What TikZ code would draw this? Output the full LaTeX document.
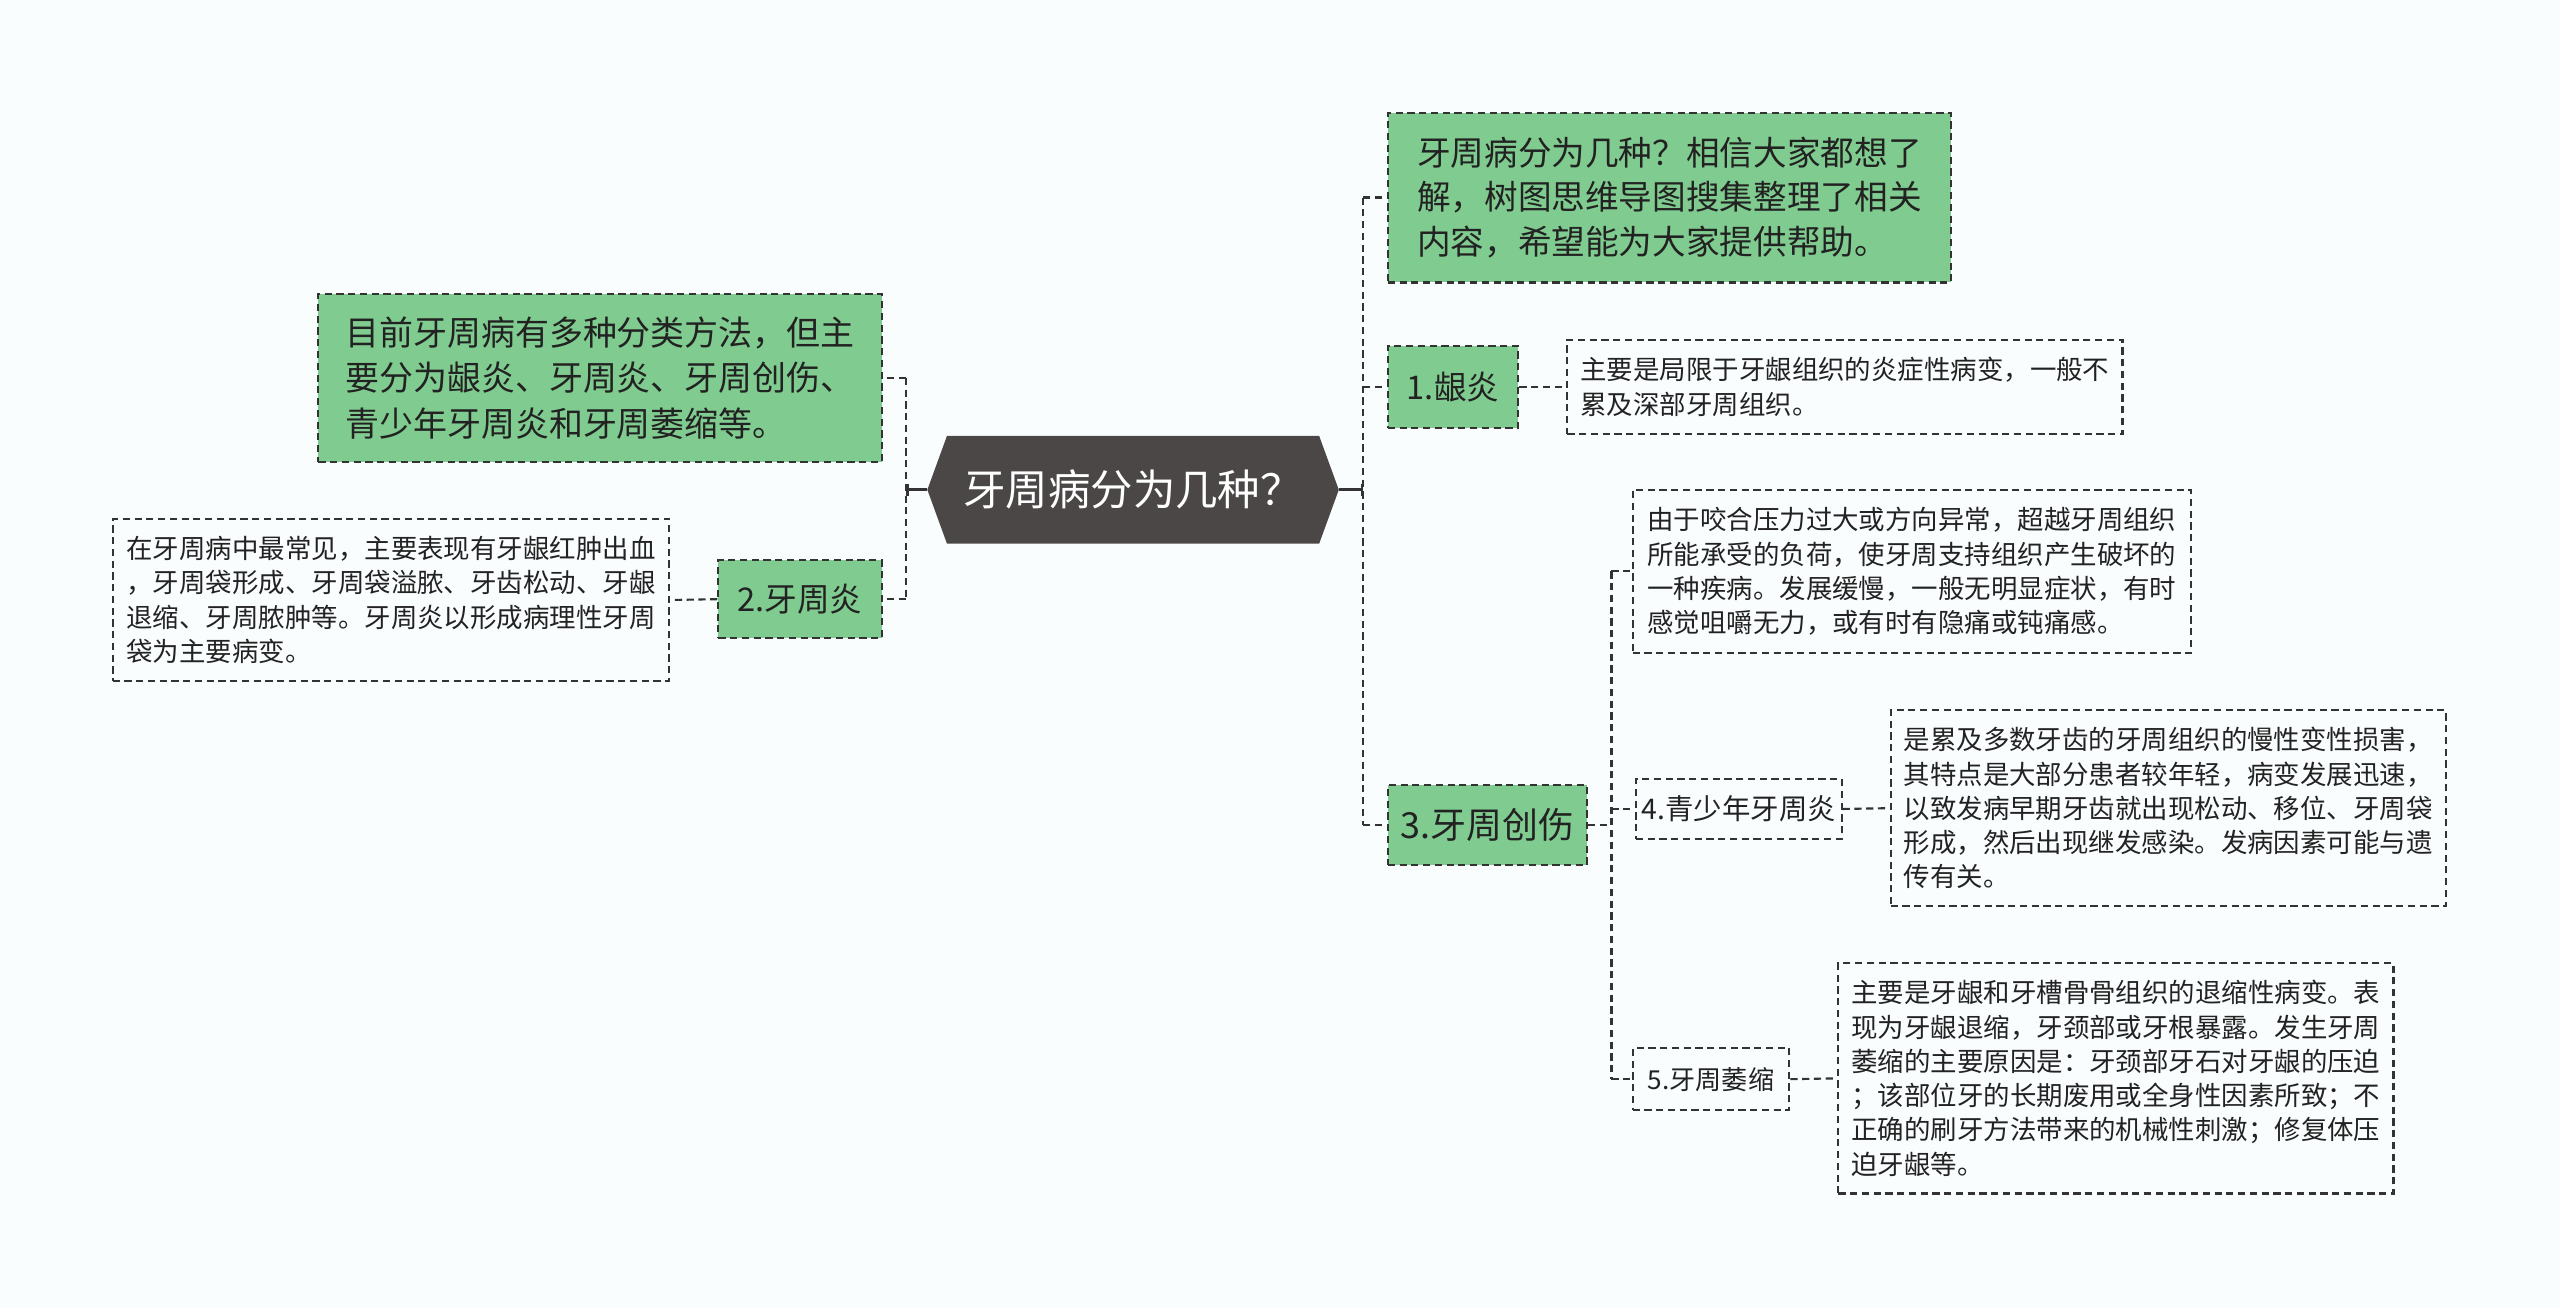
\documentclass[tikz,border=0pt]{standalone}
\usepackage{fontspec}
\setmainfont{Noto Sans CJK SC}
\usetikzlibrary{arrows.meta,positioning,shapes.symbols}
\definecolor{bgcol}{RGB}{250,253,254}
\definecolor{leafgreen}{RGB}{128,203,143}
\definecolor{rootgray}{RGB}{75,71,71}
\definecolor{linegray}{RGB}{51,51,51}
\definecolor{inkgray}{RGB}{34,34,34}

\begin{document}
\begin{tikzpicture}[x=0.5pt,y=0.5pt,
  box/.style={draw=linegray, line width=0.65pt, dash pattern=on 2.2pt off 1.4pt,
    inner sep=0pt, align=left, text=inkgray},
  greenbox/.style={box, fill=leafgreen},
  notebox/.style={box, font=\fontsize{8.1pt}{10.5pt}\selectfont},
  link/.style={draw=linegray, line width=0.65pt, dash pattern=on 2.2pt off 1.4pt},
  rootlink/.style={draw=linegray, line width=0.8pt, -{Bar[width=3.5pt,line width=0.8pt]}}]
  \fill[bgcol] (0,0) rectangle (1568,-801);
  \useasboundingbox (0,0) rectangle (1568,-801);
  % centre
  \node[signal, signal to=east and west, signal pointer angle=140, fill=rootgray,
    text=white, minimum width=126pt, minimum height=33pt,
    font=\fontsize{13pt}{15pt}\selectfont] (root) at (694,-300) {牙周病分为几种？};
  % right branch
  \node[greenbox, minimum width=172.5pt, minimum height=52pt,
    font=\fontsize{10.3pt}{13.5pt}\selectfont] (intro) at (1022.5,-121)
    {牙周病分为几种？相信大家都想了\\解，树图思维导图搜集整理了相关\\内容，希望能为大家提供帮助。};
  \node[greenbox, minimum width=40pt, minimum height=25pt,
    font=\fontsize{10pt}{12pt}\selectfont] (gum) at (890,-237) {1.龈炎};
  \node[notebox, minimum width=170pt, minimum height=29pt] (gumnote) at (1130,-237)
    {主要是局限于牙龈组织的炎症性病变，一般不\\累及深部牙周组织。};
  \node[greenbox, minimum width=61pt, minimum height=24.5pt,
    font=\fontsize{11pt}{13pt}\selectfont] (trauma) at (911,-505.5) {3.牙周创伤};
  \node[notebox, minimum width=171pt, minimum height=50pt] (traumanote) at (1171,-350)
    {由于咬合压力过大或方向异常，超越牙周组织\\所能承受的负荷，使牙周支持组织产生破坏的\\一种疾病。发展缓慢，一般无明显症状，有时\\感觉咀嚼无力，或有时有隐痛或钝痛感。};
  \node[box, minimum width=63pt, minimum height=18.5pt,
    font=\fontsize{8.7pt}{11pt}\selectfont] (juvenile) at (1065,-495.5) {4.青少年牙周炎};
  \node[notebox, minimum width=170pt, minimum height=60pt] (juvnote) at (1328,-495)
    {是累及多数牙齿的牙周组织的慢性变性损害，\\其特点是大部分患者较年轻，病变发展迅速，\\以致发病早期牙齿就出现松动、移位、牙周袋\\形成，然后出现继发感染。发病因素可能与遗\\传有关。};
  \node[box, minimum width=48pt, minimum height=19pt,
    font=\fontsize{8pt}{10pt}\selectfont] (atrophy) at (1048,-661) {5.牙周萎缩};
  \node[notebox, minimum width=170pt, minimum height=70.5pt] (atronote) at (1296,-660.5)
    {主要是牙龈和牙槽骨骨组织的退缩性病变。表\\现为牙龈退缩，牙颈部或牙根暴露。发生牙周\\萎缩的主要原因是：牙颈部牙石对牙龈的压迫\\；该部位牙的长期废用或全身性因素所致；不\\正确的刷牙方法带来的机械性刺激；修复体压\\迫牙龈等。};
  % left branch
  \node[greenbox, minimum width=172.5pt, minimum height=51.5pt,
    font=\fontsize{10.4pt}{14pt}\selectfont] (types) at (367.5,-231.5)
    {目前牙周病有多种分类方法，但主\\要分为龈炎、牙周炎、牙周创伤、\\青少年牙周炎和牙周萎缩等。};
  \node[greenbox, minimum width=50pt, minimum height=24pt,
    font=\fontsize{10pt}{12pt}\selectfont] (perio) at (490,-367) {2.牙周炎};
  \node[notebox, minimum width=170.5pt, minimum height=49.5pt] (perionote) at (239.5,-367.5)
    {在牙周病中最常见，主要表现有牙龈红肿出血\\，牙周袋形成、牙周袋溢脓、牙齿松动、牙龈\\退缩、牙周脓肿等。牙周炎以形成病理性牙周\\袋为主要病变。};
  % connectors
  \coordinate (rjoint) at (835,-300);
  \coordinate (ljoint) at (555,-300);
  \coordinate (tjoint) at (987,-505.5);
  \draw[rootlink] (root.east) -- (rjoint);
  \draw[rootlink] (root.west) -- (ljoint);
  \draw[link] (intro.west -| rjoint) -- (trauma.west -| rjoint);
  \draw[link] (intro.west -| rjoint) -- (intro.west);
  \draw[link] (gum.west -| rjoint) -- (gum.west);
  \draw[link] (trauma.west -| rjoint) -- (trauma.west);
  \draw[link] (gum.east) -- (gumnote.west);
  \draw[link] (trauma.east) -- (tjoint);
  \draw[link] (traumanote.west -| tjoint) -- (atrophy.west -| tjoint);
  \draw[link] (traumanote.west -| tjoint) -- (traumanote.west);
  \draw[link] (juvenile.west -| tjoint) -- (juvenile.west);
  \draw[link] (atrophy.west -| tjoint) -- (atrophy.west);
  \draw[link] (juvenile.east) -- (juvnote.west);
  \draw[link] (atrophy.east) -- (atronote.west);
  \draw[link] (types.east -| ljoint) -- (perio.east -| ljoint);
  \draw[link] (types.east -| ljoint) -- (types.east);
  \draw[link] (perio.east -| ljoint) -- (perio.east);
  \draw[link] (perio.west) -- (perionote.east);
\end{tikzpicture}
\end{document}
